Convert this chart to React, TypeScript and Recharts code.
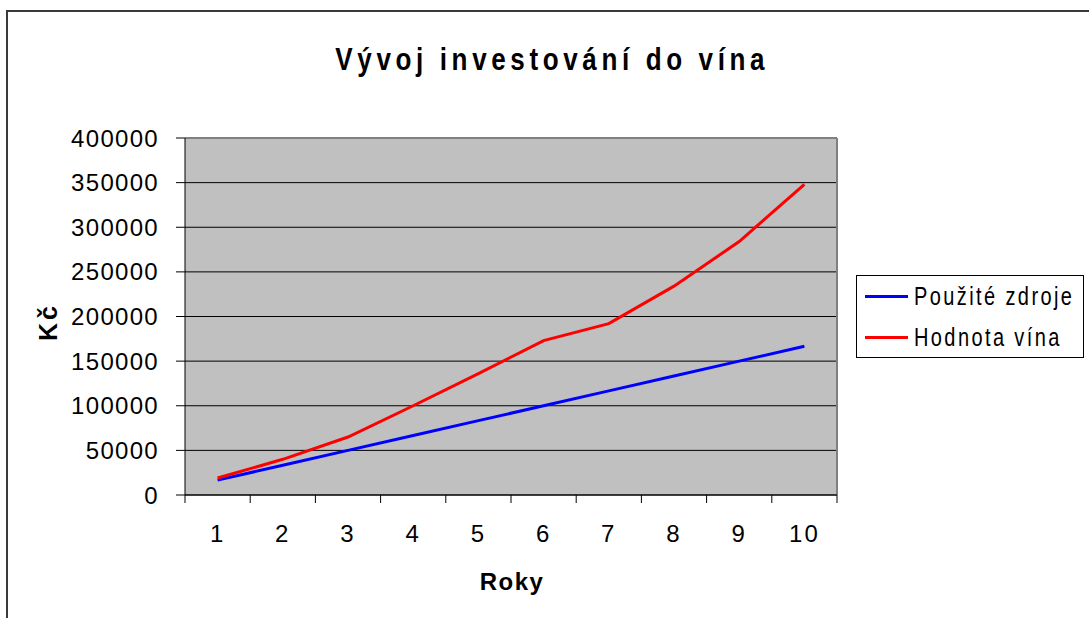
import React from "react"
import { LineChart, Line, XAxis, YAxis, CartesianGrid, Legend, ReferenceLine } from "recharts"

const years = [1, 2, 3, 4, 5, 6, 7, 8, 9, 10]
const tickEdges = [0.5, 1.5, 2.5, 3.5, 4.5, 5.5, 6.5, 7.5, 8.5, 9.5, 10.5]
const yTicks = [0, 50000, 100000, 150000, 200000, 250000, 300000, 350000, 400000]
const pouziteZdroje = [16667, 33333, 50000, 66667, 83333, 100000, 116667, 133333, 150000, 166667]
const hodnotaVina = [19000, 40000, 65000, 100000, 136000, 173000, 192000, 234000, 284000, 348000]
const seriesNames = ["Použité zdroje", "Hodnota vína"]

const data = years.map((rok, i) => ({
  rok,
  zdroje: pouziteZdroje[i],
  vino: hodnotaVina[i],
}))

const xTicks = [...tickEdges, ...years].sort((a, b) => a - b)

const font = "'Liberation Sans Narrow', 'Liberation Sans', Arial, sans-serif"
const X_TICK_MARGIN = 30

// year labels sit in the middle of each band, tick marks on the band edges
function XTick({ x, y, payload }: any) {
  const v = payload.value
  if (years.includes(v)) {
    return (
      <text x={x} y={y} dy="0.71em" textAnchor="middle" fill="#000" fontSize={24} fontFamily={font} letterSpacing={2}>
        {v}
      </text>
    )
  }
  return <line x1={x} x2={x} y1={y - X_TICK_MARGIN} y2={y - X_TICK_MARGIN + 8} stroke="#000" />
}

function LegendBox({ payload }: any) {
  const items = (payload || [])
    .filter((p: any) => seriesNames.includes(p.value))
    .sort((a: any, b: any) => seriesNames.indexOf(a.value) - seriesNames.indexOf(b.value))
  return (
    <div
      style={{
        width: 226,
        height: 81,
        border: "1px solid #000",
        background: "#fff",
        fontFamily: font,
        fontSize: 25,
        color: "#000",
        whiteSpace: "nowrap",
      }}
    >
      {items.map((p: any) => (
        <div key={p.value} style={{ display: "flex", alignItems: "center", height: 41, paddingLeft: 8 }}>
          <div style={{ width: 43, height: 3, background: p.color, marginRight: 6, flexShrink: 0 }} />
          <span
            style={{
              display: "inline-block",
              letterSpacing: 3,
              transform: "scaleX(0.8)",
              transformOrigin: "left center",
            }}
          >
            {p.value}
          </span>
        </div>
      ))}
    </div>
  )
}

function KcLabel() {
  return (
    <text
      x={57}
      y={322}
      transform="rotate(-90, 57, 322)"
      textAnchor="middle"
      fontFamily={font}
      fontWeight="bold"
      fontSize={25}
      letterSpacing={3}
      fill="#000"
    >
      Kč
    </text>
  )
}

function RokyLabel() {
  return (
    <text x={512} y={590} textAnchor="middle" fontFamily={font} fontWeight="bold" fontSize={24} letterSpacing={1.5} fill="#000">
      Roky
    </text>
  )
}

export default function App() {
  return (
    <div style={{ position: "fixed", left: 0, top: 0, width: 1089, height: 618, overflow: "hidden", background: "#fff" }}>
      <div style={{ position: "absolute", left: 6, top: 10, width: 2, height: 700, background: "#3a3a3a" }} />
      <div style={{ position: "absolute", left: 6, top: 10, width: 1200, height: 2, background: "#3a3a3a" }} />
      <div
        style={{
          position: "absolute",
          left: 0,
          width: 1089,
          top: 42,
          textAlign: "center",
          paddingLeft: 8,
          fontFamily: font,
          fontWeight: "bold",
          fontSize: 31,
          lineHeight: "36px",
          color: "#000",
        }}
      >
        <span style={{ display: "inline-block", letterSpacing: 5.5, transform: "scaleX(0.84)", transformOrigin: "center" }}>
          Vývoj investování do vína
        </span>
      </div>
      <div style={{ position: "absolute", left: 0, top: 0 }}>
        <LineChart width={1089} height={618} data={data} margin={{ top: 138, right: 252, bottom: 63, left: 0 }}>
          <CartesianGrid vertical={false} fill="#C0C0C0" stroke="#000" strokeOpacity={1} />
          <XAxis
            dataKey="rok"
            type="number"
            domain={[0.5, 10.5]}
            allowDataOverflow
            ticks={xTicks}
            interval={0}
            tickLine={false}
            tickSize={0}
            tickMargin={X_TICK_MARGIN}
            height={60}
            axisLine={{ stroke: "#000" }}
            tick={<XTick />}
            label={<RokyLabel />}
          />
          <YAxis
            width={185}
            domain={[0, 400000]}
            ticks={yTicks}
            tickSize={9}
            tickMargin={17}
            axisLine={{ stroke: "#000" }}
            tickLine={{ stroke: "#000" }}
            tick={{ fill: "#000", fontSize: 24, fontFamily: font, letterSpacing: 1.3 }}
            label={<KcLabel />}
          />
          <ReferenceLine y={400000} stroke="#808080" strokeWidth={2} />
          <ReferenceLine x={10.5} stroke="#808080" strokeWidth={2} />
          <Legend
            layout="vertical"
            align="center"
            verticalAlign="middle"
            wrapperStyle={{ left: 856, top: 275, width: "auto" }}
            content={<LegendBox />}
          />
          <Line
            type="linear"
            dataKey="zdroje"
            name={seriesNames[0]}
            stroke="#0000FF"
            strokeWidth={3}
            dot={false}
            isAnimationActive={false}
          />
          <Line
            type="linear"
            dataKey="vino"
            name={seriesNames[1]}
            stroke="#FF0000"
            strokeWidth={3}
            dot={false}
            isAnimationActive={false}
          />
        </LineChart>
      </div>
    </div>
  )
}
